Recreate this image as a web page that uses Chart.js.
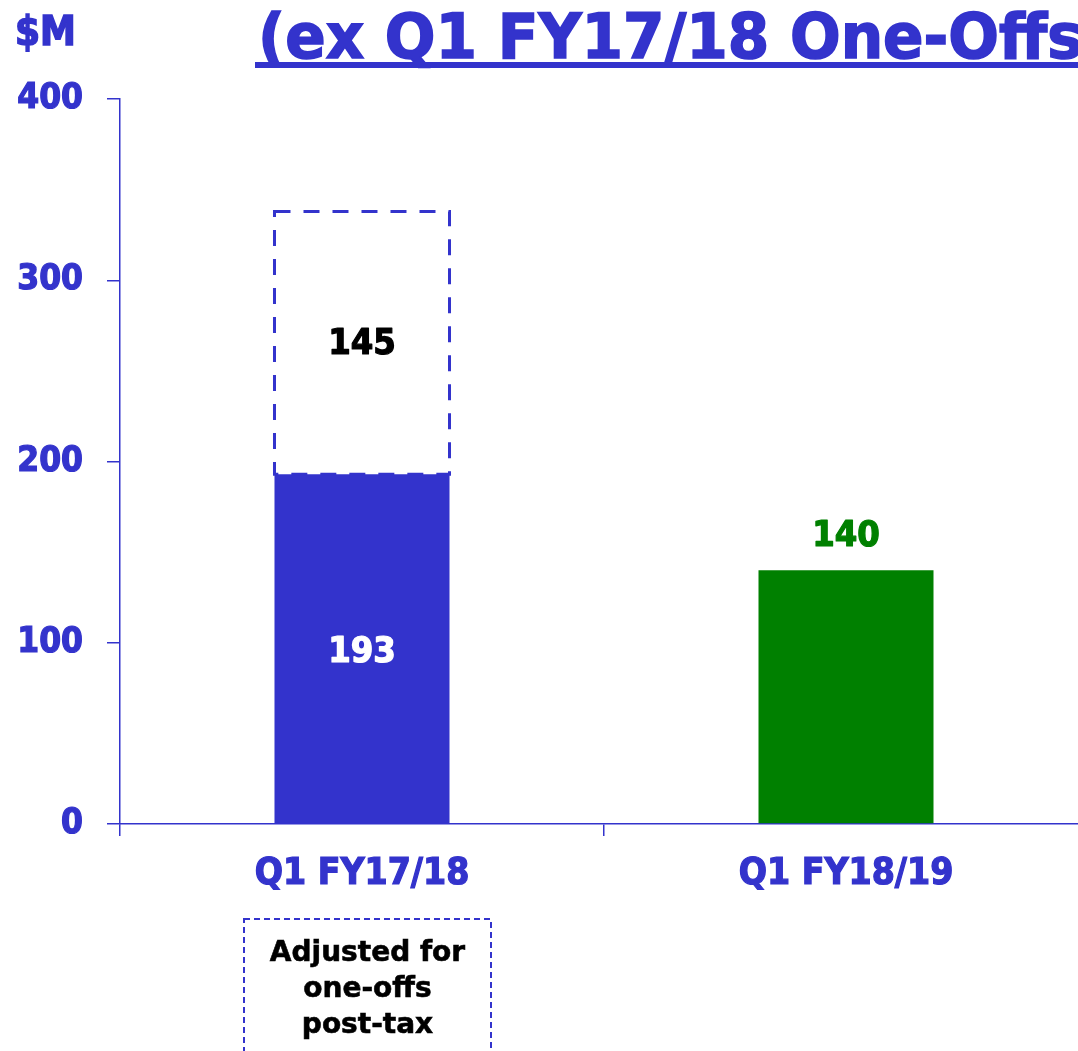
<!DOCTYPE html>
<html><head><meta charset="utf-8">
<script src="https://cdn.jsdelivr.net/npm/chart.js@4.4.0/dist/chart.umd.min.js"></script>
<style>
html,body{margin:0;padding:0;background:#fff;overflow:hidden;width:1078px;height:1051px;}
#wrap{position:relative;width:1078px;height:1051px;overflow:hidden;}
#cwrap{position:absolute;left:0;top:0;width:1088px;height:1051px;}
.cond{font-family:'DejaVu Sans Condensed','DejaVu Sans',sans-serif;font-weight:bold;color:#3333CC;white-space:nowrap;position:absolute;line-height:1;-webkit-text-stroke:1.5px #3333CC;}
#title{left:258px;top:4.7px;font-size:63px;transform-origin:0 0;}
#uline{position:absolute;left:255px;top:62px;height:6px;width:840px;background:#3333CC;}
#unit{left:15px;top:11px;font-size:40px;}
#note{position:absolute;left:243px;top:918px;width:250px;height:200px;}
#notetext{position:absolute;left:244px;top:934px;width:247px;text-align:center;font:bold 28px 'DejaVu Sans',sans-serif;line-height:36px;color:#000;-webkit-text-stroke:0.6px #000;}
</style></head>
<body>
<div id="wrap">
<div id="cwrap"><canvas id="c" width="1088" height="1051"></canvas></div>
<div id="title" class="cond">(ex Q1 FY17/18 One-Offs)</div>
<div id="uline"></div>
<div id="unit" class="cond">$M</div>
<svg id="note" width="250" height="200"><rect x="1" y="1" width="247" height="220" fill="none" stroke="#3333CC" stroke-width="2" stroke-dasharray="6 4"/></svg>
<div id="notetext">Adjusted for<br>one-offs<br>post-tax</div>
</div>
<script>
const categories = ['Q1 FY17/18', 'Q1 FY18/19'];
const reportedValues = [193, 140];
const oneOffValues = [145, null];
const yTickValues = [0, 100, 200, 300, 400];

const BLUE = '#3333CC', GREEN = '#008000';
const FAM = "'DejaVu Sans Condensed','DejaVu Sans',sans-serif";

(function(){
  const cv = document.createElement('canvas').getContext('2d');
  cv.font = "bold 63px " + FAM;
  const w = cv.measureText('(ex Q1 FY17/18 ').width;
  const s = 532 / w;
  document.getElementById('title').style.transform = 'scaleX(' + s + ')';
})();

function boldText(ctx, txt, x, y, color) {
  ctx.fillStyle = color; ctx.strokeStyle = color; ctx.lineWidth = 1.2; ctx.lineJoin = 'round';
  ctx.fillText(txt, x, y); ctx.strokeText(txt, x, y);
}

const labelPlugin = {
  id: 'labels',
  afterDatasetsDraw(chart) {
    const ctx = chart.ctx;
    const m0 = chart.getDatasetMeta(0), m1 = chart.getDatasetMeta(1);
    ctx.save();
    ctx.font = "bold 36px " + FAM;
    ctx.textAlign = 'center';
    m1.data.forEach((el, i) => {
      if (oneOffValues[i] == null) return;
      const p = el.getProps(['x', 'y', 'base', 'width'], true);
      ctx.save();
      ctx.setLineDash([16, 13]);
      ctx.lineWidth = 3;
      ctx.strokeStyle = BLUE;
      ctx.strokeRect(p.x - p.width / 2, p.y, p.width, p.base - p.y);
      ctx.restore();
      ctx.textBaseline = 'middle';
      boldText(ctx, String(oneOffValues[i]), p.x, (p.y + p.base) / 2 + 2, '#000');
    });
    m0.data.forEach((el, i) => {
      const p = el.getProps(['x', 'y', 'base', 'width'], true);
      if (oneOffValues[i] != null) {
        ctx.textBaseline = 'middle';
        boldText(ctx, String(reportedValues[i]), p.x, (p.y + p.base) / 2 + 4, '#fff');
      } else {
        ctx.textBaseline = 'alphabetic';
        boldText(ctx, String(reportedValues[i]), p.x, p.y - 24, GREEN);
      }
    });
    ctx.restore();
  }
};

new Chart(document.getElementById('c'), {
  type: 'bar',
  data: {
    labels: categories,
    datasets: [
      { label: 'Reported', data: reportedValues, backgroundColor: [BLUE, GREEN], borderWidth: 0,
        barPercentage: 0.3616, categoryPercentage: 1, stack: 's' },
      { label: 'One-offs', data: oneOffValues, backgroundColor: 'rgba(0,0,0,0)', borderWidth: 0,
        barPercentage: 0.3616, categoryPercentage: 1, stack: 's' }
    ]
  },
  options: {
    responsive: false, animation: false, devicePixelRatio: 1,
    layout: { padding: { top: 99, left: 0, right: 0, bottom: 0 } },
    plugins: { legend: { display: false }, tooltip: { enabled: false }, title: { display: false } },
    scales: {
      x: {
        stacked: true,
        grid: { display: true, drawOnChartArea: false, drawTicks: true, tickLength: 12, color: BLUE, lineWidth: 1.5, offset: true },
        border: { display: true, color: BLUE, width: 1.5 },
        ticks: { color: BLUE, font: { family: FAM, size: 37, weight: 'bold' }, padding: 16, maxRotation: 0,
                 textStrokeColor: BLUE, textStrokeWidth: 1.2 },
        afterFit(s) { s.height = 227; }
      },
      y: {
        stacked: true, min: 0, max: 400,
        afterBuildTicks(s) { s.ticks = yTickValues.map(v => ({ value: v })); },
        grid: { display: true, drawOnChartArea: false, drawTicks: true, tickLength: 13, color: BLUE, lineWidth: 1.5 },
        border: { display: true, color: BLUE, width: 1.5 },
        ticks: { color: BLUE, font: { family: FAM, size: 35, weight: 'bold' }, padding: 24,
                 textStrokeColor: BLUE, textStrokeWidth: 1.2 },
        afterFit(s) { s.width = 120; }
      }
    }
  },
  plugins: [labelPlugin]
});
</script>
</body></html>
